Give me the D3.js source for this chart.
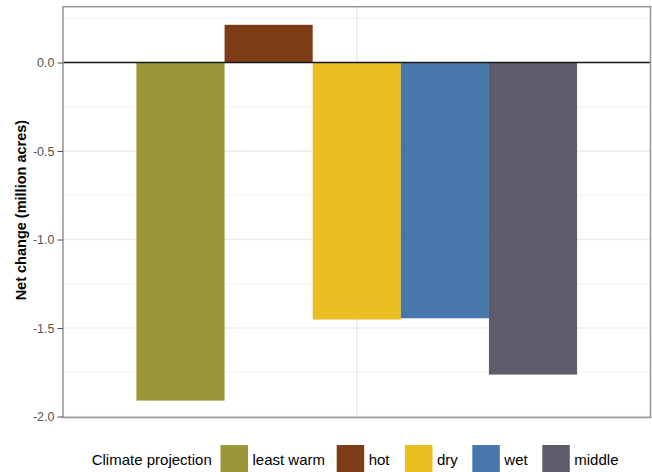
<!DOCTYPE html>
<html><head><meta charset="utf-8">
<script src="https://cdn.jsdelivr.net/npm/d3@7"></script>
<style>body{margin:0;background:#fff}svg{display:block}</style>
</head><body>
<svg id="c" width="652" height="472"></svg>
<script>
const categories = ["least warm","hot","dry","wet","middle"];
const values = [-1.91, 0.213, -1.452, -1.445, -1.763];
const colors = ["#9a9738","#7e3c16","#eabf22","#4878ab","#5e5b6b"];
const yTicks = [0.0,-0.5,-1.0,-1.5,-2.0];
const yMinor = [0.25,-0.25,-0.75,-1.25,-1.75];
const yTitle = "Net change (million acres)";
const legendTitle = "Climate projection";

const FONT = "Liberation Sans, Arial, Helvetica, sans-serif";
const svg = d3.select("#c");
const L=63, R=650.5, T=6.7, B=417.5;
const y = d3.scaleLinear().domain([-2.0055,0.3153]).range([B,T]);
const xc = d3.scaleLinear().domain([0.4,1.6]).range([L,R]);
const xb = d3.scaleBand().domain(categories).range([xc(0.55),xc(1.45)]).padding(0);

const g = svg.append("g");
g.selectAll(".mn").data(yMinor).join("line").attr("x1",L).attr("x2",R)
 .attr("y1",d=>y(d)).attr("y2",d=>y(d)).attr("stroke","#f2f2f2").attr("stroke-width",1);
g.selectAll(".mj").data(yTicks).join("line").attr("x1",L).attr("x2",R)
 .attr("y1",d=>y(d)).attr("y2",d=>y(d)).attr("stroke","#ebebeb").attr("stroke-width",1.4);
g.append("line").attr("x1",xc(1)).attr("x2",xc(1)).attr("y1",T).attr("y2",B)
 .attr("stroke","#ebebeb").attr("stroke-width",1.4);

g.selectAll("rect.bar").data(categories).join("rect").attr("class","bar")
 .attr("x",d=>xb(d)).attr("width",xb.bandwidth())
 .attr("y",(d,i)=>y(Math.max(0,values[i]))).attr("height",(d,i)=>Math.abs(y(values[i])-y(0)))
 .attr("fill",(d,i)=>colors[i]);

g.append("line").attr("x1",L).attr("x2",R).attr("y1",y(0)).attr("y2",y(0))
 .attr("stroke","#1a1a1a").attr("stroke-width",1.6);

g.append("rect").attr("x",L).attr("y",T).attr("width",R-L).attr("height",B-T)
 .attr("fill","none").attr("stroke","#959595").attr("stroke-width",1.5);

const ax = svg.append("g").attr("transform",`translate(${L},0)`)
 .call(d3.axisLeft(y).tickValues(yTicks).tickSize(5.5).tickPadding(3));
ax.select(".domain").remove();
ax.selectAll(".tick line").attr("stroke","#4d4d4d").attr("stroke-width",1);
ax.selectAll(".tick text").attr("fill","#555").style("font-family",FONT).style("font-size","12.5px")
  .text(d=>d3.format(".1f")(d).replace("\u2212","-"));

svg.append("text").attr("transform",`translate(21,${(T+B)/2-2}) rotate(-90)`)
 .attr("text-anchor","middle").attr("dy","0.35em")
 .style("font-family",FONT).style("font-size","14.5px").style("font-weight","bold")
 .attr("fill","#000").text(yTitle);

// legend
const lg = svg.append("g");
const ly = 465;
lg.append("text").attr("x",91.7).attr("y",ly)
 .style("font-family",FONT).style("font-size","15px").attr("fill","#000").text(legendTitle);
const keyX = [220.5,336.7,405,472.3,542.3];
const kw = 27.5;
categories.forEach((c,i)=>{
  lg.append("rect").attr("x",keyX[i]).attr("y",445).attr("width",kw).attr("height",30).attr("fill",colors[i]);
  lg.append("text").attr("x",keyX[i]+kw+4.5).attr("y",ly)
   .style("font-family",FONT).style("font-size","15px").attr("fill","#000").text(c);
});
</script>
</body></html>
